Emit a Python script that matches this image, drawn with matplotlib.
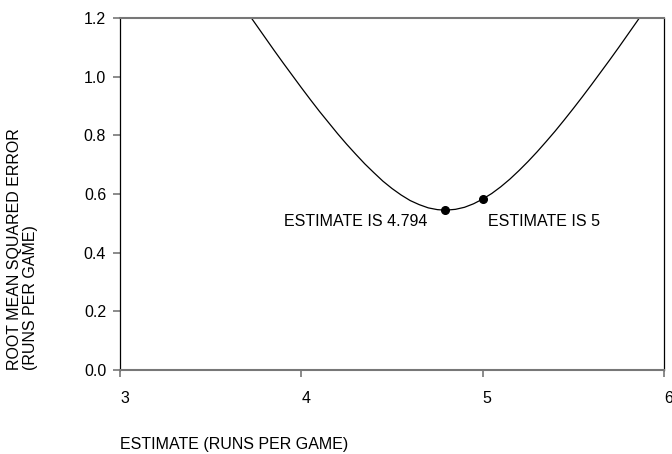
import numpy as np
import matplotlib.pyplot as plt

plt.rcParams['font.family'] = ['Liberation Sans', 'DejaVu Sans']

# curve: estimate vs root mean squared error
estimate = [3.65, 3.70, 3.75, 3.80, 3.85, 3.90, 3.95, 4.00, 4.05, 4.10,
            4.15, 4.20, 4.25, 4.30, 4.35, 4.40, 4.45, 4.50, 4.55, 4.60,
            4.65, 4.70, 4.75, 4.794, 4.85, 4.90, 4.95, 5.00, 5.05, 5.10,
            5.15, 5.20, 5.25, 5.30, 5.35, 5.40, 5.45, 5.50, 5.55, 5.60,
            5.65, 5.70, 5.75, 5.80, 5.85, 5.90]
rmse = [1.267, 1.222, 1.178, 1.134, 1.090, 1.047, 1.005, 0.963, 0.922, 0.882,
        0.844, 0.806, 0.770, 0.736, 0.703, 0.673, 0.644, 0.619, 0.597, 0.578,
        0.564, 0.553, 0.547, 0.545, 0.548, 0.555, 0.567, 0.583, 0.602, 0.625,
        0.651, 0.680, 0.711, 0.744, 0.779, 0.815, 0.853, 0.892, 0.932, 0.973,
        1.015, 1.057, 1.100, 1.144, 1.188, 1.233]

dot_x = [4.794, 5.0]
dot_y = [0.545, 0.583]
dot_labels = ["ESTIMATE IS 4.794", "ESTIMATE IS 5"]

xticks = [3, 4, 5, 6]
yticks = [0.0, 0.2, 0.4, 0.6, 0.8, 1.0, 1.2]

fs = 11.5

fig = plt.figure(figsize=(6.72, 4.54), dpi=100)
ax = fig.add_axes([0.1786, 0.185, 0.8095, 0.775])

ax.plot(estimate, rmse, color='black', lw=0.9, solid_joinstyle='round')
ax.plot(dot_x, dot_y, 'o', color='black', ms=5.5)

ax.annotate(dot_labels[0], (dot_x[0], dot_y[0]), xytext=(-13, -8),
            textcoords='offset points', ha='right', va='center', fontsize=fs)
ax.annotate(dot_labels[1], (dot_x[1], dot_y[1]), xytext=(4, -15.8),
            textcoords='offset points', ha='left', va='center', fontsize=fs)

ax.set_xlim(3, 6)
ax.set_ylim(0, 1.2)
ax.set_xticks(xticks)
ax.set_yticks(yticks)
ax.set_xticklabels([str(t) for t in xticks], ha='left')
ax.set_yticklabels([f"{t:.1f}" for t in yticks])
ax.tick_params(axis='x', length=5, width=1.2, color='#777777', pad=10, labelsize=fs)
ax.tick_params(axis='y', length=5, width=1.2, color='#777777', pad=5, labelsize=fs)

ax.spines['top'].set_color('#777777')
ax.spines['bottom'].set_color('#777777')
ax.spines['top'].set_linewidth(1.5)
ax.spines['bottom'].set_linewidth(1.5)
ax.spines['left'].set_color('black')
ax.spines['right'].set_color('black')
ax.spines['left'].set_linewidth(0.9)
ax.spines['right'].set_linewidth(0.9)

fig.text(0.033, 0.185, "ROOT MEAN SQUARED ERROR\n(RUNS PER GAME)", rotation=90,
         ha='center', va='bottom', multialignment='left', fontsize=fs,
         linespacing=1.1)
fig.text(0.1786, 0.02, "ESTIMATE (RUNS PER GAME)", ha='left', va='center', fontsize=fs)

fig.savefig('out.png', dpi=100)
